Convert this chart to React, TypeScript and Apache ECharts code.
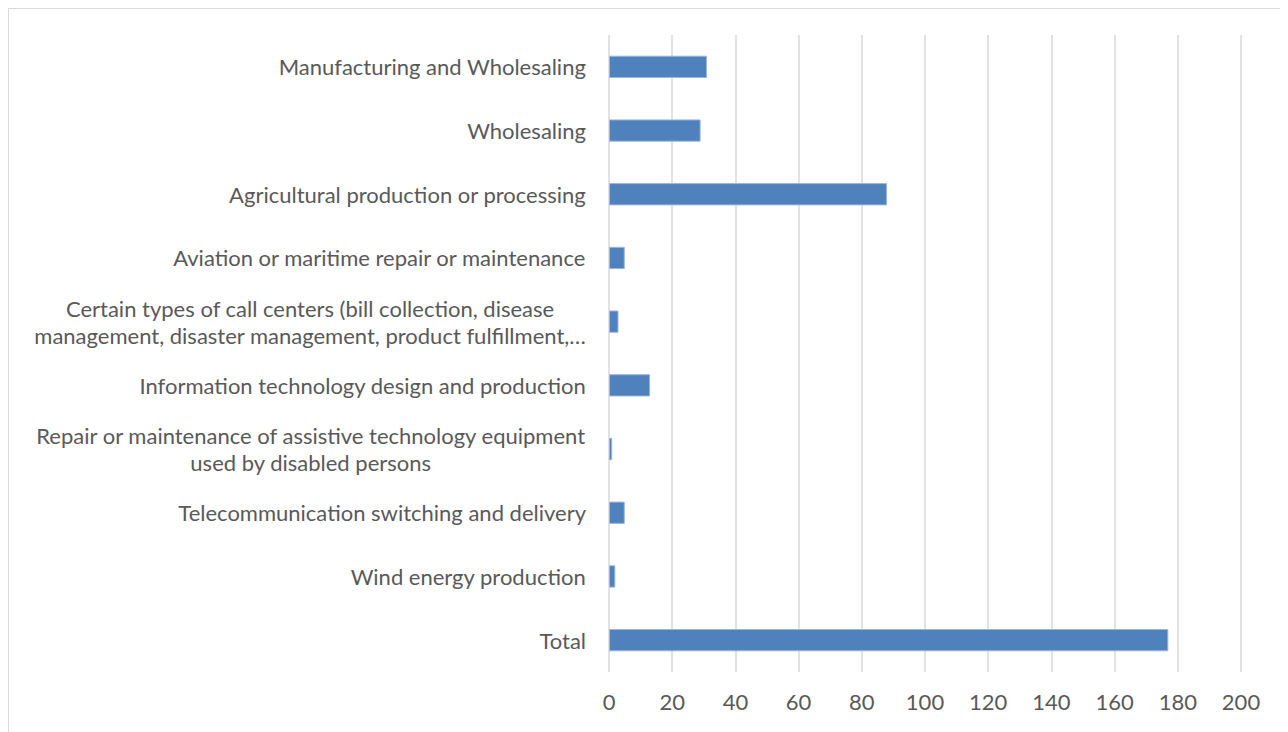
import React, { useEffect, useRef } from "react";
import * as echarts from "echarts";

const categories: string[] = [
  "Manufacturing and Wholesaling",
  "Wholesaling",
  "Agricultural production or processing",
  "Aviation or maritime repair or maintenance",
  "Certain types of call centers (bill collection, disease\nmanagement, disaster management, product fulfillment,…",
  "Information technology design and production",
  "Repair or maintenance of assistive technology equipment\nused by disabled persons",
  "Telecommunication switching and delivery",
  "Wind energy production",
  "Total",
];

const values: number[] = [31, 29, 88, 5, 3, 13, 1, 5, 2, 177];

const xTicks = { min: 0, max: 200, interval: 20 };

export default function App() {
  const ref = useRef<HTMLDivElement>(null);
  useEffect(() => {
    if (!ref.current) return;
    const chart = echarts.init(ref.current, undefined, { renderer: "svg" });
    const font = "Lato, 'Liberation Sans', sans-serif";
    chart.setOption({
      animation: false,
      grid: { left: 600, right: 45, top: 26, bottom: 75, containLabel: false },
      xAxis: {
        type: "value",
        min: xTicks.min,
        max: xTicks.max,
        interval: xTicks.interval,
        axisLine: { show: false },
        axisTick: { show: false },
        splitLine: { show: true, lineStyle: { color: "#d9d9d9", width: 1.5 } },
        axisLabel: { color: "#595959", fontSize: 22, fontFamily: font, margin: 18 },
      },
      yAxis: {
        type: "category",
        data: categories,
        inverse: true,
        axisLine: { show: false },
        axisTick: { show: false },
        axisLabel: {
          color: "#595959",
          fontSize: 22,
          fontFamily: font,
          margin: 23,
          lineHeight: 27,
          formatter: (v: string) =>
            v
              .split("\n")
              .map((l) => "{c|" + l + "}")
              .join("\n"),
          rich: {
            c: { align: "center", color: "#595959", fontSize: 22, fontFamily: font, lineHeight: 27 },
          },
        },
      },
      series: [
        {
          type: "bar",
          data: values,
          barWidth: "35%",
          itemStyle: { color: "#4f81bd", borderColor: "#9db7dc", borderWidth: 1 },
        },
      ],
    });
    return () => chart.dispose();
  }, []);
  return (
    <div
      style={{
        position: "relative",
        width: 1279,
        height: 740,
        boxSizing: "border-box",
        border: "1px solid #d9d9d9",
        background: "#fff",
      }}
    >
      <div ref={ref} style={{ position: "absolute", left: 0, top: 0, width: 1277, height: 738 }} />
    </div>
  );
}
